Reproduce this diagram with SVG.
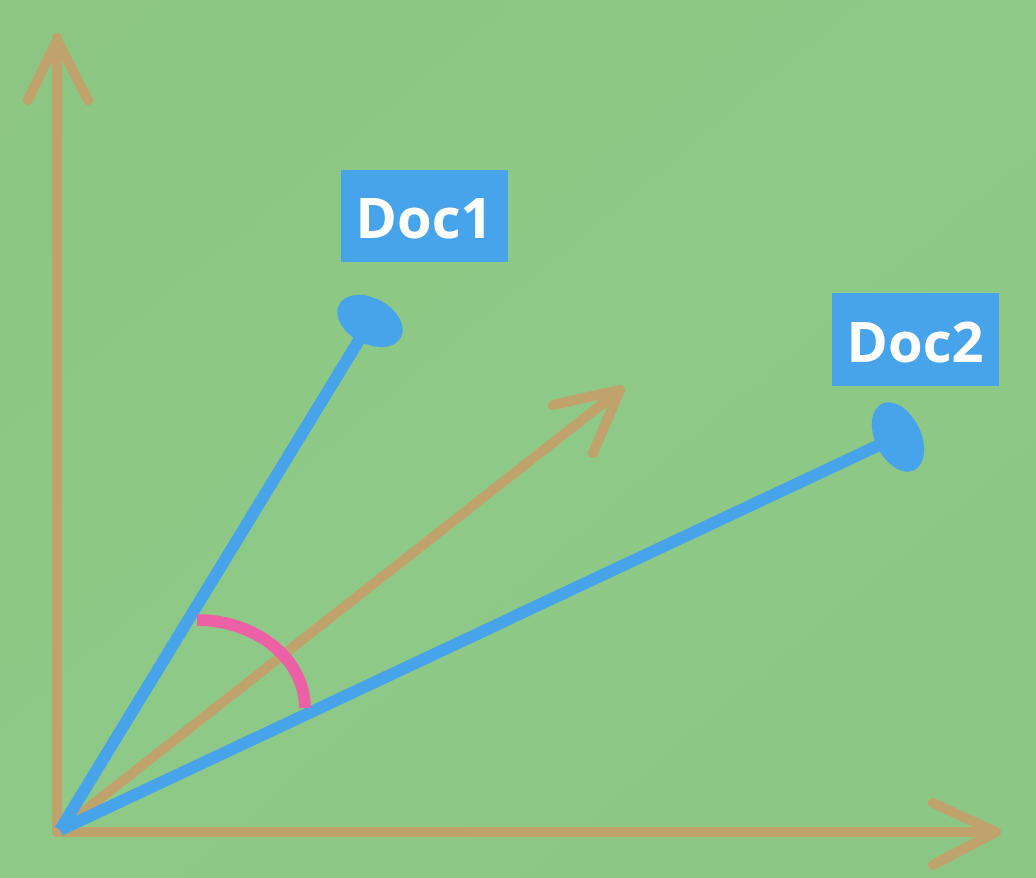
<svg xmlns="http://www.w3.org/2000/svg" width="1036" height="878" viewBox="0 0 1036 878">
  <defs>
    <linearGradient id="bg" x1="0" y1="0" x2="1" y2="1">
      <stop offset="0" stop-color="#8cc682"/>
      <stop offset="0.5" stop-color="#8ec987"/>
      <stop offset="1" stop-color="#8cc684"/>
    </linearGradient>
    <style>
      .axis { stroke: #c0a36c; stroke-width: 10; fill: none; stroke-linecap: round; stroke-linejoin: round; }
      .vec { stroke: #47a3ea; stroke-width: 12; fill: none; stroke-linecap: butt; }
      .head { fill: #47a3ea; }
      .box { fill: #47a3ea; }
      .lbl { fill: #ffffff; font-family: "Open Sans", "Liberation Sans", sans-serif; font-weight: bold; font-size: 56px; }
      .angle { stroke: #ec61a6; stroke-width: 12; fill: none; }
    </style>
  </defs>
  <rect width="1036" height="878" fill="url(#bg)"/>

  <g id="axes">
    <path class="axis" d="M57,832 L57,38 M28,100 L57,40 L88,100"/>
    <path class="axis" d="M57,832 L996,832 M933,803 L996,832 L933,865"/>
    <path class="axis" d="M60,830 L620,390 M553,405 L620,390 L593,453"/>
  </g>

  <g id="connectors">
    <line class="vec" x1="60" y1="830" x2="364" y2="332"/>
    <line class="vec" x1="60" y1="830" x2="890" y2="440"/>
    <path class="angle" d="M197,620 A108,88 0 0 1 305,708"/>
  </g>

  <g id="doc1">
    <ellipse class="head" cx="370" cy="321" rx="35" ry="23" transform="rotate(28 370 321)"/>
    <rect class="box" x="341" y="170" width="167" height="92"/>
    <text class="lbl" x="424" y="238" text-anchor="middle">Doc1</text>
  </g>

  <g id="doc2">
    <ellipse class="head" cx="898" cy="437" rx="23" ry="37" transform="rotate(-26 898 437)"/>
    <rect class="box" x="832" y="293" width="167" height="93"/>
    <text class="lbl" x="915" y="362" text-anchor="middle">Doc2</text>
  </g>
</svg>
